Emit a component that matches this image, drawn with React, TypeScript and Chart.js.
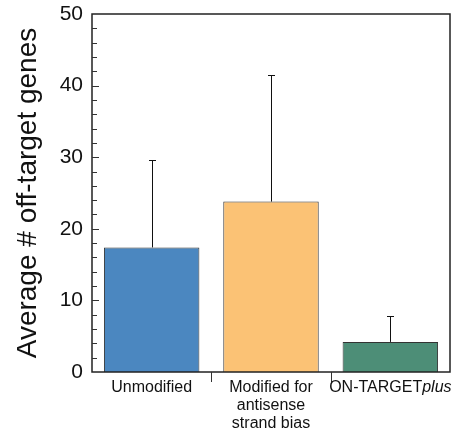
import React, { useEffect, useRef } from "react";
import { Chart, registerables } from "chart.js";

Chart.register(...registerables);

const categories = ["Unmodified", "Modified for antisense strand bias", "ON-TARGETplus"];
const categoryLines: string[][] = [["Unmodified"], ["Modified for", "antisense", "strand bias"], ["ON-TARGET"]];
const categoryItalicSuffix = ["", "", "plus"];
const means = [17.4, 23.8, 4.2];
const errorTops = [29.6, 41.5, 7.8];
const barColors = ["#4b87c0", "#fbc275", "#4d8e77"];
const yTickValues = [0, 10, 20, 30, 40, 50];

const FONT = "'Liberation Sans', Arial, Helvetica, sans-serif";
const CAT_SIZE = 16;

const decorPlugin = {
  id: "decor",
  afterDatasetsDraw(chart: any) {
    const ctx = chart.ctx;
    const { left, right, top, bottom } = chart.chartArea;
    const x = chart.scales.x;
    const y = chart.scales.y;
    ctx.save();
    // error bars
    const meta = chart.getDatasetMeta(0);
    ctx.strokeStyle = "#111";
    ctx.lineWidth = 1;
    meta.data.forEach((bar: any, i: number) => {
      const cx = Math.round(bar.x) + 0.5;
      const y0 = y.getPixelForValue(means[i]);
      const y1 = Math.round(y.getPixelForValue(errorTops[i])) + 0.5;
      ctx.beginPath();
      ctx.moveTo(cx, y0);
      ctx.lineTo(cx, y1);
      ctx.moveTo(cx - 3.5, y1);
      ctx.lineTo(cx + 3.5, y1);
      ctx.stroke();
    });
    // frame
    ctx.strokeStyle = "#222";
    ctx.lineWidth = 1.5;
    ctx.strokeRect(left, top, right - left, bottom - top);
    // y ticks inside
    ctx.lineWidth = 1;
    ctx.strokeStyle = "#333";
    for (let v = 2; v < 50; v += 2) {
      const py = Math.round(y.getPixelForValue(v)) + 0.5;
      const len = v % 10 === 0 ? 7 : 5;
      ctx.beginPath();
      ctx.moveTo(left, py);
      ctx.lineTo(left + len, py);
      ctx.stroke();
    }
    // x category separators
    for (let i = 1; i < categories.length; i++) {
      const px = Math.round((x.getPixelForValue(i - 1) + x.getPixelForValue(i)) / 2) + 0.5;
      ctx.beginPath();
      ctx.moveTo(px, bottom);
      ctx.lineTo(px, bottom + 10);
      ctx.stroke();
    }
    // category labels
    ctx.fillStyle = "#111";
    ctx.textBaseline = "middle";
    categories.forEach((_, i) => {
      const cx = x.getPixelForValue(i);
      categoryLines[i].forEach((line, j) => {
        const ly = bottom + 16 + j * 18;
        const suffix = j === categoryLines[i].length - 1 ? categoryItalicSuffix[i] : "";
        ctx.font = `${CAT_SIZE}px ${FONT}`;
        const w1 = ctx.measureText(line).width;
        ctx.font = `italic ${CAT_SIZE}px ${FONT}`;
        const w2 = suffix ? ctx.measureText(suffix).width : 0;
        const start = cx - (w1 + w2) / 2;
        ctx.textAlign = "left";
        ctx.font = `${CAT_SIZE}px ${FONT}`;
        ctx.fillText(line, start, ly);
        if (suffix) {
          ctx.font = `italic ${CAT_SIZE}px ${FONT}`;
          ctx.fillText(suffix, start + w1, ly);
        }
      });
    });
    ctx.restore();
  },
};

export default function App() {
  const ref = useRef<HTMLCanvasElement>(null);
  useEffect(() => {
    document.body.style.margin = "0";
    const chart = new Chart(ref.current!, {
      type: "bar",
      data: {
        labels: categories,
        datasets: [
          {
            data: means,
            backgroundColor: barColors,
            borderColor: "#333",
            borderWidth: 1,
            barPercentage: 0.8,
            categoryPercentage: 1,
          },
        ],
      },
      options: {
        animation: false,
        responsive: false,
        layout: { padding: { top: 14, right: 6, left: 0, bottom: 0 } },
        plugins: { legend: { display: false }, tooltip: { enabled: false } },
        scales: {
          x: {
            grid: { display: false, drawTicks: false },
            border: { display: false },
            ticks: { display: false },
            afterFit(scale: any) {
              scale.height = 60;
              scale.paddingLeft = 0;
              scale.paddingRight = 0;
            },
          },
          y: {
            min: 0,
            max: 50,
            afterBuildTicks(scale: any) {
              scale.ticks = yTickValues.map((v) => ({ value: v }));
            },
            grid: { display: false, drawTicks: false },
            border: { display: false },
            ticks: {
              color: "#111",
              font: { family: FONT, size: 21 },
              padding: 9,
            },
            title: {
              display: true,
              text: "Average # off-target genes",
              color: "#111",
              font: { family: FONT, size: 28 },
              padding: { top: 11, bottom: 0 },
            },
            afterFit(scale: any) {
              scale.width = 92;
              scale.paddingTop = 0;
              scale.paddingBottom = 0;
            },
          },
        },
      },
      plugins: [decorPlugin],
    });
    return () => chart.destroy();
  }, []);
  return (
    <div style={{ width: 456, height: 432 }}>
      <canvas ref={ref} width={456} height={432} />
    </div>
  );
}
